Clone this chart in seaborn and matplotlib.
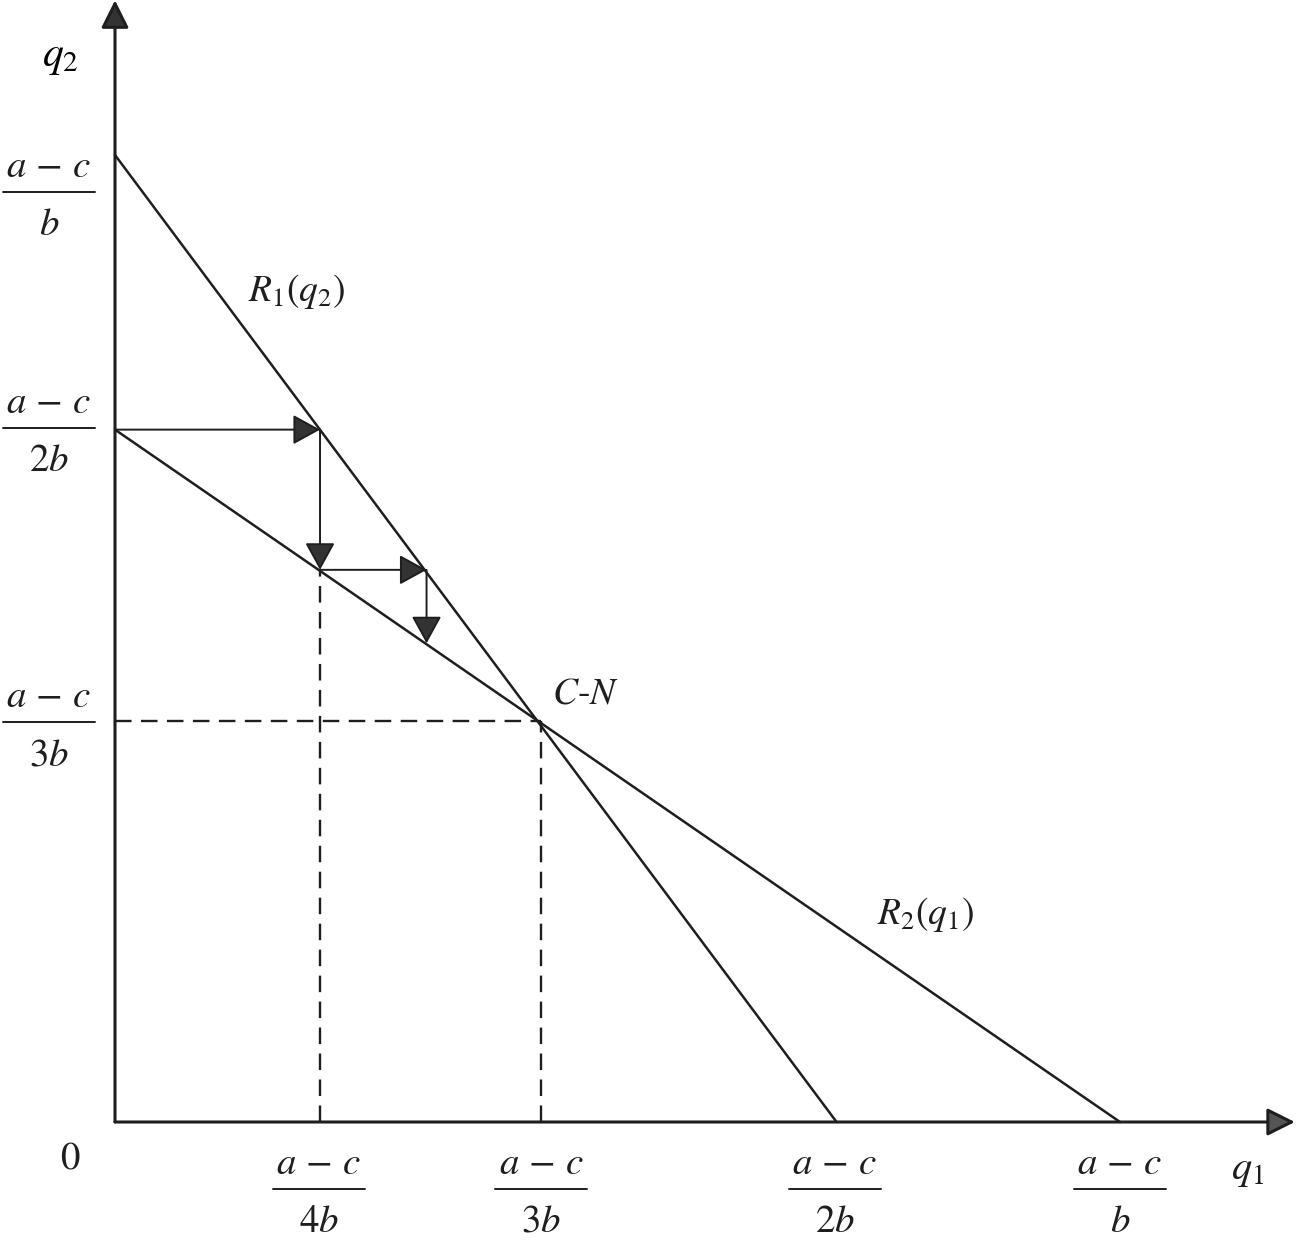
import matplotlib
matplotlib.use("Agg")
import matplotlib.pyplot as plt
import matplotlib.transforms as mtransforms
import seaborn as sns

# values (drawn units: (a-c)/b on each axis = 1.0)
x_ticks = [0.203, 0.424, 0.716, 1.0]
x_dens = ["4b", "3b", "2b", "b"]
y_ticks = [1.0, 0.716, 0.415]
y_dens = ["b", "2b", "3b"]

r1_q1 = [0.0, 0.718]
r1_q2 = [1.0, 0.0]
r2_q1 = [0.0, 1.0]
r2_q2 = [0.716, 0.0]

cn_q1 = 0.424
cn_q2 = 0.415

# adjustment path towards C-N
path_q1 = [0.0, 0.204, 0.204, 0.310, 0.310]
path_q2 = [0.716, 0.716, 0.571, 0.571, 0.495]

sns.set_theme(style="white")
plt.rcParams["font.family"] = ["STIXGeneral", "DejaVu Serif"]
plt.rcParams["mathtext.fontset"] = "stix"

ink = "#1e1e1e"
fig = plt.figure(figsize=(12.96, 12.54), dpi=100)
ax = fig.add_axes([0, 0, 1, 1])
ax.set_xlim(-115 / 1005, (1296 - 115) / 1005)
ax.set_ylim((1122 - 1254) / 967, 1122 / 967)
ax.axis("off")

# axes with arrow heads
ax.annotate("", xy=(1.174, 0), xytext=(0, 0),
            arrowprops=dict(arrowstyle="-|>,head_length=1.0,head_width=0.5",
                            mutation_scale=17, lw=2.2, color=ink, fc="#555555",
                            shrinkA=0, shrinkB=0))
ax.annotate("", xy=(0, 1.160), xytext=(0, 0),
            arrowprops=dict(arrowstyle="-|>,head_length=1.0,head_width=0.5",
                            mutation_scale=17, lw=2.2, color=ink, fc="#333333",
                            shrinkA=0, shrinkB=0))

# reaction functions
sns.lineplot(x=r1_q1, y=r1_q2, ax=ax, color=ink, lw=1.8)
sns.lineplot(x=r2_q1, y=r2_q2, ax=ax, color=ink, lw=1.8)

# dashed guides
dash = dict(color=ink, lw=1.7, dashes=(7, 4))
ax.plot([path_q1[1], path_q1[1]], [0, path_q2[3]], **dash)
ax.plot([cn_q1, cn_q1], [0, cn_q2], **dash)
ax.plot([0, cn_q1], [cn_q2, cn_q2], **dash)

# adjustment arrows
for i in range(len(path_q1) - 1):
    ax.annotate("", xy=(path_q1[i + 1], path_q2[i + 1]),
                xytext=(path_q1[i], path_q2[i]),
                arrowprops=dict(arrowstyle="-|>,head_length=1.0,head_width=0.55",
                                mutation_scale=17, lw=1.4, color=ink,
                                fc="#333333", shrinkA=0, shrinkB=0))


def frac(x, y, den, half=46):
    # fraction label, bar centred at (x, y)
    up = mtransforms.offset_copy(ax.transData, fig=fig, x=0, y=15, units="dots")
    down = mtransforms.offset_copy(ax.transData, fig=fig, x=0, y=-43, units="dots")
    ax.text(x, y, r"$a\,-\,c$", transform=up, ha="center", va="baseline",
            fontsize=28, color=ink)
    ax.text(x, y, "$" + den + "$", transform=down, ha="center",
            va="baseline", fontsize=28, color=ink)
    ax.plot([x - half / 1005, x + half / 1005], [y, y], color=ink, lw=1.4,
            clip_on=False)


def px_y(p):
    return (1122 - p) / 967


def px_x(p):
    return (p - 115) / 1005


for xt, den in zip(x_ticks, x_dens):
    frac(xt, px_y(1189), den)

y_bar = [px_y(192), px_y(428), px_y(722)]
for yb, den in zip(y_bar, y_dens):
    frac(px_x(49), yb, den)

ax.text(px_x(70), px_y(1170), "0", ha="center", va="baseline",
        fontsize=28, color=ink)
ax.text(px_x(1248), px_y(1170), r"$q_1$", ha="center", va="center",
        fontsize=29, color=ink)
ax.text(px_x(60), px_y(58), r"$q_2$", ha="center", va="center",
        fontsize=30, color="black")
ax.text(px_x(297), px_y(292), r"$R_1(q_2)$", ha="center", va="center",
        fontsize=27, color=ink)
ax.text(px_x(926), px_y(915), r"$R_2(q_1)$", ha="center", va="center",
        fontsize=27, color=ink)
ax.text(px_x(585), px_y(694), r"$C$-$N$", ha="center", va="center",
        fontsize=27, color=ink)

fig.savefig("out.png", dpi=100, facecolor="white")
